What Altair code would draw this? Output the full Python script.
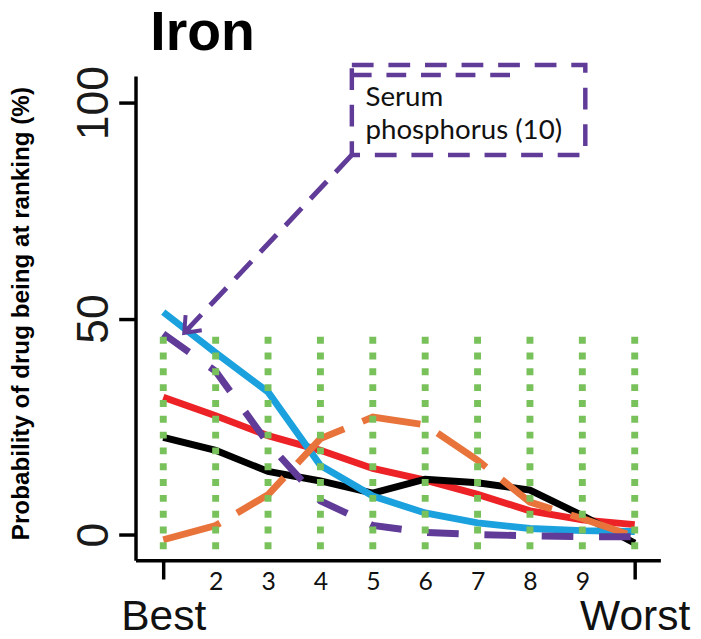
import altair as alt
import pandas as pd

# ---- data ----
ranks = [1, 2, 3, 4, 5, 6, 7, 8, 9, 10]
red_vals = [31.8, 27.5, 22.9, 19.5, 15.3, 12.6, 9.3, 5.5, 3.4, 2.3]
black_vals = [22.5, 19.5, 14.6, 12.4, 9.6, 12.8, 12.0, 10.3, 4.4, -2.0]
blue_vals = [51.5, 42.1, 33.0, 16.0, 8.9, 5.0, 2.7, 1.4, 0.9, 0.7]
orange_vals = [-1.2, 2.1, 9.2, 22.2, 27.2, 25.4, 17.2, 7.5, 3.7, -0.5]
purple_vals = [46.5, 37.8, 21.1, 7.8, 2.1, 0.5, 0.0, -0.3, -0.5, -0.5]

y_ticks = [0, 50, 100]
best_label = "Best"
worst_label = "Worst"
title_text = "Iron"
y_title = "Probability of drug being at ranking (%)"
note_lines = ["Serum", "phosphorus (10)"]

# annotation geometry (data units)
note_box = {"x1": 4.6, "x2": 9.057, "y1": 108.7, "y2": 87.9}
note_extra = {"x1": 4.6, "x2": 7.64, "y": 106.4}
note_text = {"x": 4.86, "y": 99.3}
arrow = {"x1": 4.6, "y1": 87.9, "x2": 1.40, "y2": 46.7}
grid_top, grid_bottom = 45.8, -4.6

x_dom = [0.47, 10.49]
y_dom = [-5.95, 106.2]

RED, BLACK, BLUE, ORANGE, PURPLE, GREEN = (
    "#ec2227", "#000000", "#1ba1dd", "#e8743b", "#603c98", "#79c15b")

xs = alt.Scale(domain=x_dom, nice=False, zero=False)
ys = alt.Scale(domain=y_dom, nice=False, zero=False)

end_test = "datum.value == 1 || datum.value == 10"
x_axis = alt.Axis(
    values=ranks,
    labelExpr=f"datum.value == 1 ? '{best_label}' : datum.value == 10 ? '{worst_label}' : datum.label",
    grid=False, domainColor="black", domainWidth=3.5,
    tickColor="black", tickWidth=3.5, tickSize=19,
    tickOpacity={"condition": {"test": end_test, "value": 1}, "value": 0},
    labelFontSize={"condition": {"test": end_test, "value": 43}, "value": 25},
    labelFont={"condition": {"test": end_test, "value": "Liberation Sans"}, "value": "Lato"},
    labelPadding={"condition": {"test": end_test, "value": 51}, "value": 11},
    labelBaseline="alphabetic", labelAlign="center", labelColor="#111111",
    labelOverlap=False, labelFlush=False, labelBound=False, title="",
)
y_axis = alt.Axis(
    values=y_ticks, grid=False, domainColor="black", domainWidth=3.5,
    tickColor="black", tickWidth=3.5, tickSize=17,
    labelAngle=270, labelAlign="center", labelBaseline="alphabetic",
    labelFontSize=45, labelFont="Liberation Sans", labelPadding=11,
    labelColor="#1a1a1a", labelFlush=False, labelOverlap=False,
    title=y_title, titleFont="Liberation Sans", titleFontSize=24.5,
    titleFontWeight="bold", titleAngle=270, titleAlign="center",
    titleBaseline="alphabetic", titleX=-108, titleY=240, titleColor="black",
)


def X(field):
    return alt.X(field, type="quantitative", scale=xs, axis=x_axis)


def Y(field):
    return alt.Y(field, type="quantitative", scale=ys, axis=y_axis)


series = [
    ("red", red_vals, RED, None),
    ("black", black_vals, BLACK, None),
    ("blue", blue_vals, BLUE, None),
    ("orange", orange_vals, ORANGE, [60, 20]),
    ("purple", purple_vals, PURPLE, [32, 26]),
]

layers = []
for name, vals, col, dash in series:
    df = pd.DataFrame({"rank": ranks, "value": vals})
    kw = dict(color=col, strokeWidth=7)
    if dash:
        kw["strokeDash"] = dash
    layers.append(alt.Chart(df).mark_line(**kw).encode(x=X("rank"), y=Y("value")))

grid_df = pd.DataFrame({"rank": ranks, "value": [grid_top] * len(ranks),
                        "bottom": [grid_bottom] * len(ranks)})
layers.append(
    alt.Chart(grid_df).mark_rule(color=GREEN, strokeWidth=7, strokeDash=[7, 9]).encode(
        x=X("rank"), y=Y("value"), y2="bottom:Q",
    )
)

box_df = pd.DataFrame([{"rank": note_box["x1"], "r2": note_box["x2"],
                        "value": note_box["y1"], "v2": note_box["y2"]}])
layers.append(
    alt.Chart(box_df).mark_rect(fillOpacity=0, stroke=PURPLE, strokeWidth=4.5,
                                strokeDash=[22, 15]).encode(
        x=X("rank"), x2="r2:Q", y=Y("value"), y2="v2:Q",
    )
)
extra_df = pd.DataFrame([{"rank": note_extra["x1"], "r2": note_extra["x2"],
                          "value": note_extra["y"]}])
layers.append(
    alt.Chart(extra_df).mark_rule(color=PURPLE, strokeWidth=4.5, strokeDash=[20, 15]).encode(
        x=X("rank"), x2="r2:Q", y=Y("value"),
    )
)
text_df = pd.DataFrame([{"rank": note_text["x"], "value": note_text["y"], "t": note_lines}])
layers.append(
    alt.Chart(text_df).mark_text(font="Lato", fontSize=28, align="left",
                                 baseline="alphabetic", lineHeight=34,
                                 color="#111111").encode(
        x=X("rank"), y=Y("value"), text="t",
    )
)
arrow_df = pd.DataFrame([{"rank": arrow["x1"], "value": arrow["y1"],
                          "r2": arrow["x2"], "v2": arrow["y2"]}])
layers.append(
    alt.Chart(arrow_df).mark_rule(color=PURPLE, strokeWidth=5, strokeDash=[24, 13]).encode(
        x=X("rank"), x2="r2:Q", y=Y("value"), y2="v2:Q",
    )
)
head_df = pd.DataFrame([{"rank": arrow["x2"], "value": arrow["y2"]}])
layers.append(
    alt.Chart(head_df).mark_point(
        shape="M-1,-0.8L0,0L-1,0.8", filled=False, stroke=PURPLE,
        strokeWidth=4, size=784, angle=133, opacity=1,
    ).encode(x=X("rank"), y=Y("value"))
)

chart = alt.layer(*layers).properties(
    width=531, height=490,
    padding={"left": 129, "top": 65, "right": 33, "bottom": 76},
    autosize=alt.AutoSizeParams(type="none"),
    title=alt.TitleParams(title_text, anchor="start", frame="group",
                          font="Liberation Sans", fontSize=56, fontWeight="bold",
                          color="black", dx=15, dy=43, offset=0,
                          baseline="alphabetic"),
).configure(font="Liberation Sans").configure_view(strokeWidth=0)

chart.save("out.html", embed_options={"renderer": "svg", "actions": False})
